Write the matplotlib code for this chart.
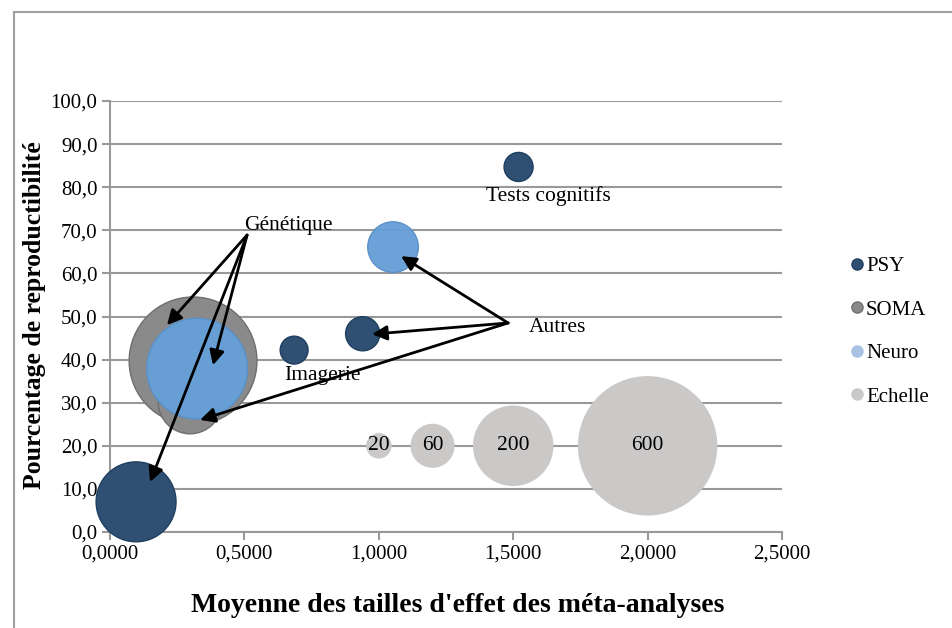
import matplotlib
matplotlib.use("Agg")
import matplotlib.pyplot as plt
from matplotlib.lines import Line2D

# ---- data ----
psy_x = [0.097, 0.685, 0.94, 1.52]
psy_y = [7.0, 42.2, 46.0, 84.7]
psy_size = [197, 24, 36, 26]

soma_x = [0.309, 0.298]
soma_y = [39.7, 30.2]
soma_size = [504, 126]

neuro_x = [0.324, 1.053]
neuro_y = [37.9, 66.1]
neuro_size = [314, 79]

echelle_x = [1.0, 1.2, 1.5, 2.0]
echelle_y = [20.0, 20.0, 20.0, 20.0]
echelle_size = [20, 60, 200, 600]
echelle_labels = ["20", "60", "200", "600"]

x_ticks = [0.0, 0.5, 1.0, 1.5, 2.0, 2.5]
x_tick_labels = ["0,0000", "0,5000", "1,0000", "1,5000", "2,0000", "2,5000"]
y_ticks = [0, 10, 20, 30, 40, 50, 60, 70, 80, 90, 100]
y_tick_labels = ["0,0", "10,0", "20,0", "30,0", "40,0", "50,0", "60,0", "70,0", "80,0", "90,0", "100,0"]

series_names = ["PSY", "SOMA", "Neuro", "Echelle"]

SCALE = 16.8  # bubble area scale (points^2 per unit)

c_psy = "#2F5073"
c_soma = "#8A8A8A"
c_neuro = "#669FD6"
c_ech = "#CBC8C8"

serif = ["Liberation Serif", "DejaVu Serif"]

fig = plt.figure(figsize=(9.52, 6.28), dpi=100)
ax = fig.add_axes([110/952, 96/628, 672/952, 431/628])

def sz(lst):
    return [SCALE * v for v in lst]

ax.scatter(psy_x, psy_y, s=sz(psy_size), color=c_psy, edgecolor="#1F3F60", linewidth=1, zorder=3, clip_on=False)
ax.scatter(soma_x, soma_y, s=sz(soma_size), color=c_soma, edgecolor="#6E6E6E", linewidth=1, zorder=3, clip_on=False)
ax.scatter(neuro_x, neuro_y, s=sz(neuro_size), color=c_neuro, edgecolor="#5A90C8", linewidth=1, zorder=3, alpha=0.97, clip_on=False)
ax.scatter(echelle_x, echelle_y, s=sz(echelle_size), color=c_ech, edgecolor="none", zorder=3, clip_on=False)

for x, y, t in zip(echelle_x, echelle_y, echelle_labels):
    ax.text(x, y, t, ha="center", va="center", fontsize=15.5, family=serif, zorder=5)

ax.set_xlim(0, 2.5)
ax.set_ylim(0, 100)
ax.set_xticks(x_ticks)
ax.set_xticklabels(x_tick_labels, family=serif, fontsize=15)
ax.set_yticks(y_ticks)
ax.set_yticklabels(y_tick_labels, family=serif, fontsize=15)
ax.yaxis.grid(True, color="#999999", linewidth=1.5, zorder=0)
ax.set_axisbelow(True)
for s in ["top", "right"]:
    ax.spines[s].set_visible(False)
for s in ["left", "bottom"]:
    ax.spines[s].set_color("#999999")
    ax.spines[s].set_linewidth(1.5)
ax.tick_params(axis="both", direction="out", length=6, width=1.5, color="#999999", pad=3)

ax.set_xlabel("Moyenne des tailles d'effet des méta-analyses", family=serif, fontsize=20,
              fontweight="bold")
ax.set_ylabel("Pourcentage de reproductibilité", family=serif, fontsize=18.5,
              fontweight="bold")
ax.xaxis.set_label_coords((458 - 110) / 672, -(605 - 532) / 431)
ax.yaxis.set_label_coords(-(110 - 35) / 672, (532 - 315) / 431)
ax.xaxis.label.set_va("center")
ax.yaxis.label.set_va("center")

# annotations
arrow = dict(arrowstyle="-|>", color="black", lw=2, mutation_scale=22, shrinkA=0, shrinkB=0)
gen_origin = (0.51, 68.9)
for tgt in [(0.212, 48.0), (0.383, 38.7), (0.149, 11.6)]:
    ax.annotate("", xy=tgt, xytext=gen_origin, arrowprops=arrow, zorder=6, annotation_clip=False)
aut_origin = (1.481, 48.5)
for tgt in [(1.083, 64.0), (0.975, 45.9), (0.335, 26.0)]:
    ax.annotate("", xy=tgt, xytext=aut_origin, arrowprops=arrow, zorder=6, annotation_clip=False)

ax.text(0.498, 71.0, "Génétique", ha="left", va="center", fontsize=15.5, family=serif, zorder=7)
ax.text(1.559, 47.4, "Autres", ha="left", va="center", fontsize=15.5, family=serif, zorder=7)
ax.text(1.63, 78.0, "Tests cognitifs", ha="center", va="center", fontsize=15.5, family=serif, zorder=7)
ax.text(0.789, 36.2, "Imagerie", ha="center", va="center", fontsize=15.5, family=serif, zorder=7)

# legend
handles = [
    Line2D([], [], marker="o", linestyle="none", markersize=8, markerfacecolor=c_psy, markeredgecolor="#1F3F60"),
    Line2D([], [], marker="o", linestyle="none", markersize=8, markerfacecolor=c_soma, markeredgecolor="#6E6E6E"),
    Line2D([], [], marker="o", linestyle="none", markersize=8, markerfacecolor="#A7C2E2", markeredgecolor="#A7C2E2"),
    Line2D([], [], marker="o", linestyle="none", markersize=8, markerfacecolor="#C9C9C9", markeredgecolor="#C9C9C9"),
]
leg = fig.legend(handles, series_names, loc="upper left", bbox_to_anchor=(840/952, 1 - 246/628),
                 frameon=False, prop={"family": serif, "size": 15}, handlelength=0.6,
                 handletextpad=0.15, labelspacing=1.15, borderpad=0)

# outer frame lines
fig.add_artist(Line2D([14/952, 14/952], [0, 1 - 12/628], color="#A0A0A0", lw=1.5, transform=fig.transFigure))
fig.add_artist(Line2D([14/952, 1], [1 - 12/628, 1 - 12/628], color="#A0A0A0", lw=1.5, transform=fig.transFigure))

fig.savefig("out.png", dpi=100)
